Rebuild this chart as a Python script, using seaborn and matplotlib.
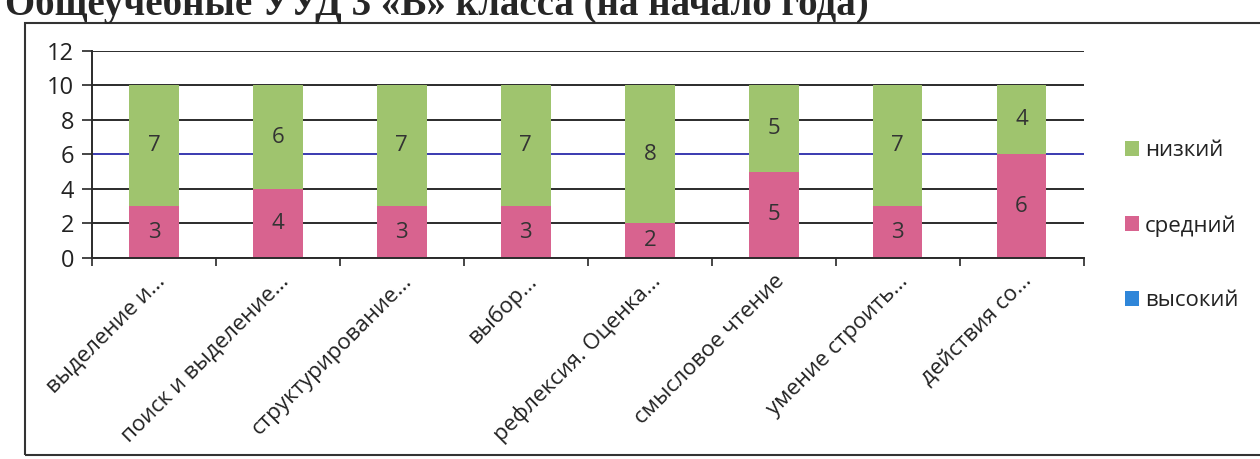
import pandas as pd
import matplotlib.pyplot as plt
import seaborn as sns
from matplotlib.patches import Patch, Rectangle

# --- data ---
categories = ["выделение и...", "поиск и выделение...", "структурирование...", "выбор...",
              "рефлексия. Оценка...", "смысловое чтение", "умение строить...", "действия со..."]
high = [0, 0, 0, 0, 0, 0, 0, 0]
mid = [3, 4, 3, 3, 2, 5, 3, 6]
low = [7, 6, 7, 7, 8, 5, 7, 4]
series_names = ["низкий", "средний", "высокий"]
title = "Общеучебные УУД 3 «В» класса (на начало года)"

colors = {"высокий": "#2f86d9", "средний": "#d8638f", "низкий": "#9fc46e"}

sns.set_style("white")
plt.rcParams["font.family"] = ["Open Sans", "DejaVu Sans"]

df = pd.DataFrame({"cat": categories, "высокий": high, "средний": mid, "низкий": low})

fig = plt.figure(figsize=(12.6, 4.59), dpi=100)
ax = fig.add_axes([0.073, 0.438, 0.787, 0.451])

# gridlines first so bars sit on top
for yv in range(0, 13, 2):
    ax.axhline(yv, color="#3a3ab0" if yv == 6 else "#2b2b2b", lw=1.4, zorder=0)

bottom = [0] * len(categories)
for name in ["высокий", "средний", "низкий"]:
    sns.barplot(data=df, x="cat", y=name, color=colors[name], width=0.4,
                bottom=bottom, ax=ax, saturation=1, zorder=2,
                edgecolor="none", linewidth=0)
    bottom = [b + v for b, v in zip(bottom, df[name])]

# label the visible segments
for cont, name in zip(ax.containers, ["высокий", "средний", "низкий"]):
    labels = [str(v) if v > 0 else "" for v in df[name]]
    ax.bar_label(cont, labels=labels, label_type="center", fontsize=16, color="#333333")

ax.set_ylim(0, 12)
ax.set_xlim(-0.5, len(categories) - 0.5)
ax.set_yticks(range(0, 13, 2))
ax.tick_params(axis="y", labelsize=17, length=7, width=1.2, direction="out", left=True, pad=6,
               labelcolor="#222222")
ax.set_xticks(range(len(categories)))
ax.set_xticklabels(categories, rotation=45, ha="right", rotation_mode="anchor", fontsize=16,
                   color="#222222")
ax.tick_params(axis="x", length=0, pad=9)
ax.set_xticks([i - 0.5 for i in range(len(categories) + 1)], minor=True)
ax.tick_params(axis="x", which="minor", length=6, width=1.2, direction="out", bottom=True)
ax.set_xlabel("")
ax.set_ylabel("")
for side in ["top", "right"]:
    ax.spines[side].set_visible(False)
for side in ["left", "bottom"]:
    ax.spines[side].set_color("#2b2b2b")
    ax.spines[side].set_linewidth(1.4)

# legend on the right
handles = [Patch(facecolor=colors[n], edgecolor="none") for n in series_names]
fig.legend(handles, series_names, loc="upper left", bbox_to_anchor=(0.877, 0.738),
           frameon=False, fontsize=16, labelspacing=2.42, handlelength=0.65,
           handleheight=0.65, handletextpad=0.25, labelcolor="#222222")

# outer frame of the chart
fig.patches.append(Rectangle((0.02, 0.008), 1.2, 0.942, transform=fig.transFigure,
                             fill=False, edgecolor="#333333", lw=1.5))

# title, cut off at the top edge as in the scan
fig.text(0.004, 0.967, title, fontsize=28, fontweight="bold", va="baseline",
         family=["Liberation Serif", "DejaVu Serif"])

fig.savefig("out.png", dpi=100)
